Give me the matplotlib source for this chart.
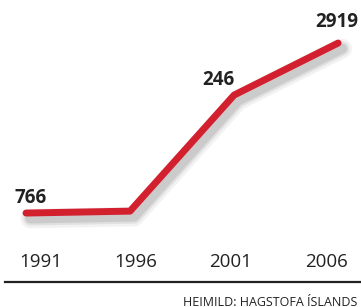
import matplotlib.pyplot as plt
import matplotlib.patheffects as pe
from matplotlib.lines import Line2D
from matplotlib.transforms import blended_transform_factory

# data
years = ['1991', '1996', '2001', '2006']
values = [766, 790, 2260, 2919]
point_labels = ['766', '', '246', '2919']
label_offsets = [(3, 11), (0, 0), (-11, 11), (-1, 15)]
source = 'HEIMILD: HAGSTOFA ÍSLANDS'

plt.rcParams['font.family'] = ['Open Sans', 'DejaVu Sans']

fig = plt.figure(figsize=(3.61, 3.07), dpi=100)
fig.patch.set_facecolor('white')
ax = fig.add_axes([0, 0, 1, 1])
ax.set_xlim(-0.25, 3.22)
ax.set_ylim(-424, 3464)
ax.axis('off')

x = list(range(len(values)))

# soft shadow under the line
shadow = [pe.SimpleLineShadow(offset=(3, -4), shadow_color='black', alpha=a, linewidth=w)
          for a, w in [(0.05, 14), (0.07, 10), (0.09, 7)]]
ax.plot(x, values, color='#d3202f', lw=5, solid_capstyle='round', solid_joinstyle='round',
        path_effects=shadow + [pe.Normal()], zorder=3)

for xi, v, lab, off in zip(x, values, point_labels, label_offsets):
    if lab:
        ax.annotate(lab, (xi, v), xytext=off, textcoords='offset points',
                    ha='center', va='center', fontsize=13.5, fontweight='bold', color='#222222')

# year labels (slightly narrower spacing than the line points)
trans = blended_transform_factory(ax.transData, fig.transFigure)
for i, yr in enumerate(years):
    ax.text(0.145 + i * 0.913, 1 - 262 / 307, yr, transform=trans, ha='center', va='center',
            fontsize=13.5, color='#222222')

fig.add_artist(Line2D([5 / 361, 1], [1 - 282 / 307] * 2, color='#222222', lw=1.6))
fig.text(0.99, 1 - 302 / 307, source, ha='right', va='center', fontsize=9, color='#222222')

fig.savefig('out.png', dpi=100)
